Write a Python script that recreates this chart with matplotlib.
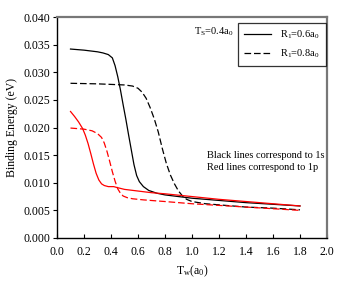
import matplotlib
matplotlib.use("Agg")
import matplotlib.pyplot as plt
from matplotlib.lines import Line2D

plt.rcParams['font.family'] = ['Liberation Serif', 'DejaVu Serif']
plt.rcParams['mathtext.fontset'] = 'custom'
plt.rcParams['mathtext.rm'] = 'Liberation Serif'
plt.rcParams['mathtext.it'] = 'Liberation Serif'

# Black solid: R1=0.6a0, 1s
bs_x = [0.10, 0.20, 0.30, 0.34, 0.38, 0.41, 0.43, 0.45, 0.47, 0.49, 0.51, 0.53, 0.55, 0.57, 0.59, 0.61, 0.64, 0.68, 0.74, 0.80, 0.90, 1.00, 1.20, 1.40, 1.60, 1.80]
bs_y = [0.0342, 0.0340, 0.0337, 0.0335, 0.0332, 0.0326, 0.0312, 0.0292, 0.0268, 0.0241, 0.0215, 0.0187, 0.0160, 0.0133, 0.0113, 0.0102, 0.0093, 0.0086, 0.0081, 0.0078, 0.0075, 0.0072, 0.0068, 0.0064, 0.0061, 0.0058]
# Black dashed: R1=0.8a0, 1s
bd_x = [0.10, 0.30, 0.50, 0.56, 0.60, 0.63, 0.66, 0.69, 0.72, 0.75, 0.78, 0.81, 0.84, 0.87, 0.90, 0.93, 0.96, 1.00, 1.10, 1.20, 1.40, 1.60, 1.80]
bd_y = [0.0280, 0.0279, 0.0277, 0.0275, 0.0271, 0.0264, 0.0253, 0.0236, 0.0216, 0.0192, 0.0162, 0.0135, 0.0114, 0.0098, 0.0085, 0.0076, 0.0070, 0.0066, 0.0062, 0.0060, 0.0056, 0.0054, 0.0051]
# Red solid: R1=0.6a0, 1p
rs_x = [0.10, 0.13, 0.16, 0.19, 0.21, 0.23, 0.25, 0.27, 0.29, 0.31, 0.33, 0.35, 0.38, 0.42, 0.45, 0.50, 0.60, 0.70, 0.80, 1.00, 1.20, 1.40, 1.60, 1.80]
rs_y = [0.0229, 0.0220, 0.0210, 0.0198, 0.0186, 0.0171, 0.0153, 0.0134, 0.0117, 0.0105, 0.0098, 0.0095, 0.0093, 0.0093, 0.0091, 0.0088, 0.0085, 0.0082, 0.0080, 0.0075, 0.0070, 0.0066, 0.0062, 0.0058]
# Red dashed: R1=0.8a0, 1p
rd_x = [0.10, 0.20, 0.26, 0.30, 0.33, 0.35, 0.37, 0.39, 0.41, 0.43, 0.45, 0.47, 0.49, 0.52, 0.56, 0.64, 0.80, 1.00, 1.20, 1.40, 1.60, 1.80]
rd_y = [0.0199, 0.0197, 0.0194, 0.0189, 0.0182, 0.0172, 0.0157, 0.0139, 0.0120, 0.0103, 0.0089, 0.0081, 0.0076, 0.0073, 0.0071, 0.0069, 0.0066, 0.0062, 0.0059, 0.0056, 0.0053, 0.0050]

xticks = [0.0, 0.2, 0.4, 0.6, 0.8, 1.0, 1.2, 1.4, 1.6, 1.8, 2.0]
yticks = [0.000, 0.005, 0.010, 0.015, 0.020, 0.025, 0.030, 0.035, 0.040]

fig = plt.figure(figsize=(3.46, 2.83), dpi=100)
ax = fig.add_axes([57/346, 45/283, 270/346, 221/283])

lw = 0.9
dash = (5.3, 2.3)
ax.plot(bs_x, bs_y, color='black', lw=lw)
ax.plot(bd_x, bd_y, color='black', lw=lw, dashes=dash)
ax.plot(rs_x, rs_y, color='red', lw=lw)
ax.plot(rd_x, rd_y, color='red', lw=lw, dashes=dash)

ax.set_xlim(0, 2.0)
ax.set_ylim(0, 0.040)
ax.set_xticks(xticks)
ax.set_xticklabels([f"{v:.1f}" for v in xticks])
ax.set_yticks(yticks)
ax.set_yticklabels([f"{v:.3f}" for v in yticks])
ax.tick_params(axis='x', direction='in', length=3, width=0.8, labelsize=8.5, pad=6)
ax.tick_params(axis='y', direction='out', length=3, width=0.8, labelsize=8.5, pad=2)

for s in ['left', 'bottom']:
    ax.spines[s].set_color('black')
    ax.spines[s].set_linewidth(1.0)
for s in ['top', 'right']:
    ax.spines[s].set_color('#777777')
    ax.spines[s].set_linewidth(1.6)

ax.set_ylabel('Binding Energy (eV)', fontsize=8.5, labelpad=4)
ax.set_xlabel(r'T$_\mathrm{w}$(a$_0$)', fontsize=8.5, labelpad=4)

ax.text(0.58, 0.935, r'T$_\mathrm{S}$=0.4a$_0$', transform=ax.transAxes, fontsize=7.5,
        ha='center', va='center')

handles = [Line2D([], [], color='black', lw=lw),
           Line2D([], [], color='black', lw=lw, dashes=dash)]
leg = ax.legend(handles, [r'R$_1$=0.6a$_0$', r'R$_1$=0.8a$_0$'], loc='upper right',
                bbox_to_anchor=(0.995, 0.975), fontsize=7.5, frameon=True, fancybox=False,
                edgecolor='black', borderaxespad=0, handlelength=2.6, labelspacing=0.6,
                borderpad=0.6, handletextpad=0.8)
leg.get_frame().set_linewidth(0.9)

ax.text(0.555, 0.375, 'Black lines correspond to 1s', transform=ax.transAxes, fontsize=7.5,
        ha='left', va='center')
ax.text(0.555, 0.32, 'Red lines correspond to 1p', transform=ax.transAxes, fontsize=7.5,
        ha='left', va='center')

fig.savefig('out.png', dpi=100)
